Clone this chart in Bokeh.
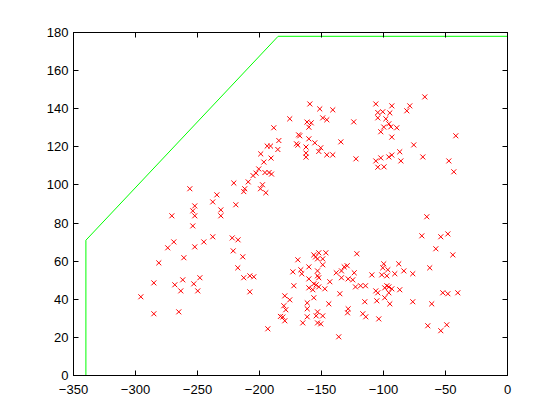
from bokeh.plotting import figure
from bokeh.models import Range1d, LinearAxis, FixedTicker
from bokeh.embed import file_html
from bokeh.resources import INLINE

# Boundary polygon (green)
bound_x = [-340, -340, -185, 0, 0, -340]
bound_y = [0, 71, 178, 178, 0, 0]

# Scatter points (red x markers)
x_vals = [
    -175.6, -188.5, -168.5, -167.5, -184.4, -193.8, -191.1, -170.2, -169.1, -185.2,
    -199.0, -190.7, -196.5, -200.6, -195.6, -192.3, -190.3, -205.2, -202.8, -220.7,
    -209.1, -211.9, -212.7, -197.6, -199.2, -194.9, -256.2, -234.4, -237.7, -219.1,
    -252.2, -253.8, -231.2, -252.2, -231.2, -270.7, -253.8, -237.7, -222.0, -217.3,
    -244.9, -269.1, -274.0, -252.2, -221.2, -213.5, -261.0, -281.2, -217.5, -212.7,
    -207.8, -204.6, -248.1, -285.2, -261.9, -268.3, -253.0, -263.5, -249.8, -207.8,
    -295.7, -285.2, -265.1, -193.3, -169.1, -173.1, -166.7, -165.9, -172.3, -179.6,
    -175.6, -180.4, -178.8, -183.1, -181.2, -179.6, -165.1,
    -159.4, -151.4, -140.9, -149.0, -145.7, -161.7, -158.3, -160.2, -124.0, -160.2,
    -155.4, -134.4, -162.5, -150.6, -152.2, -162.5, -162.5, -145.7, -140.9, -122.2,
    -106.2, -93.3, -66.7, -78.8, -81.2, -104.6, -100.6, -94.9, -104.6, -98.1,
    -95.7, -99.8, -94.1, -89.3, -102.2, -93.3, -41.7, -75.6, -93.3, -95.7,
    -86.9, -68.3, -106.2, -102.2, -86.0, -104.6, -99.6, -47.3, -43.3,
    -65.1, -69.1, -53.8, -48.1, -57.8, -44.1, -121.5, -156.2, -152.2, -146.5,
    -153.2, -149.0, -154.8, -160.2, -149.0, -153.2, -153.2, -152.2, -160.2, -156.2,
    -154.3, -160.2, -157.0, -152.2, -147.3, -143.3, -156.2, -161.5, -144.1, -161.5,
    -153.2, -154.3, -149.0, -161.5, -153.2, -150.6, -136.1, -135.2, -138.1, -133.9,
    -131.7, -129.3, -123.6, -133.9, -128.5, -124.8, -122.6, -118.5, -114.5, -128.5,
    -129.0, -115.1, -116.7, -114.3, -103.8, -109.4, -99.8, -100.6, -96.5, -101.4,
    -97.3, -87.7, -83.6, -90.9, -76.4, -62.7, -106.2, -104.6, -97.3, -95.7,
    -99.0, -93.3, -95.7, -86.9, -105.4, -99.0, -94.9, -76.4, -61.1, -52.2,
    -48.1, -40.1, -64.3, -53.8, -49.0,
]
y_vals = [
    134.7, 130.0, 126.3, 125.8, 123.3, 120.4, 120.4, 121.6, 120.9, 118.6,
    116.3, 114.1, 112.0, 108.4, 106.5, 106.5, 105.7, 104.9, 106.2, 101.0,
    101.6, 98.0, 96.5, 100.1, 98.0, 95.9, 98.0, 94.8, 91.1, 89.6,
    89.0, 86.4, 86.9, 83.8, 83.8, 83.8, 78.5, 72.8, 72.2, 71.2,
    70.1, 70.1, 67.0, 67.5, 65.4, 62.3, 61.8, 59.1, 56.5, 51.3,
    52.3, 51.8, 51.3, 48.6, 50.2, 47.6, 48.1, 44.4, 44.4, 43.9,
    41.3, 32.4, 33.4, 24.5, 60.7, 54.4, 55.5, 53.4, 47.1, 41.8,
    39.7, 36.6, 34.5, 31.0, 30.7, 28.7, 27.6,
    142.5, 139.9, 139.4, 135.2, 134.2, 133.0, 132.6, 130.3, 133.1, 124.2,
    122.1, 122.6, 119.9, 119.5, 117.6, 116.7, 114.6, 115.8, 115.8, 113.7,
    142.5, 141.5, 146.2, 141.5, 138.9, 138.0, 138.4, 137.8, 135.2, 134.7,
    132.1, 130.4, 130.5, 130.0, 127.9, 125.1, 125.8, 121.0, 115.7, 114.7,
    117.4, 114.7, 112.6, 114.2, 112.6, 109.3, 109.5, 112.6, 106.9,
    83.3, 73.3, 72.8, 74.3, 66.5, 63.3, 63.9, 63.3, 64.4, 64.4,
    61.2, 61.2, 62.2, 57.0, 58.1, 54.9, 52.3, 51.3, 50.7, 48.1,
    47.6, 46.0, 45.0, 46.5, 45.5, 49.2, 40.8, 38.1, 37.6, 35.0,
    33.4, 31.3, 31.3, 30.8, 27.6, 27.1, 20.3, 42.9, 53.9, 54.9,
    57.0, 57.6, 53.9, 51.3, 50.7, 50.2, 46.5, 47.1, 47.1, 35.0,
    32.9, 38.7, 32.4, 30.8, 29.7, 52.8, 58.6, 56.5, 55.5, 52.8,
    52.3, 58.6, 54.9, 53.4, 53.4, 56.5, 44.4, 43.4, 47.1, 46.5,
    46.0, 45.5, 43.4, 45.0, 39.2, 40.8, 37.6, 38.7, 37.6, 43.4,
    42.9, 43.4, 26.1, 23.5, 26.6,
]

x_ticks = [-350, -300, -250, -200, -150, -100, -50, 0]
y_ticks = [0, 20, 40, 60, 80, 100, 120, 140, 160, 180]

p = figure(
    frame_width=434, frame_height=343,
    x_range=Range1d(-350, 0), y_range=Range1d(0, 180),
    output_backend="svg", toolbar_location=None,
    min_border_left=73, min_border_top=32, min_border_right=45, min_border_bottom=37,
    background_fill_color="white", border_fill_color="white",
)
p.grid.visible = False
p.outline_line_color = "black"
p.outline_line_width = 1

font = "Liberation Sans"

def style_axis(ax, ticks, labels=True):
    ax.ticker = FixedTicker(ticks=ticks)
    ax.axis_line_color = "black"
    ax.major_tick_in = 5
    ax.major_tick_out = 0
    ax.minor_tick_line_color = None
    ax.major_tick_line_color = "black"
    ax.major_label_text_font = font
    if labels:
        ax.major_label_text_font_size = "13px"
        ax.major_label_text_color = "black"
    else:
        ax.major_label_text_color = None
        ax.major_label_standoff = 0

style_axis(p.xaxis[0], x_ticks)
style_axis(p.yaxis[0], y_ticks)
p.xaxis[0].major_label_standoff = 9
p.yaxis[0].major_label_standoff = 5

top = LinearAxis()
style_axis(top, x_ticks, labels=False)
p.add_layout(top, "above")
right = LinearAxis()
style_axis(right, y_ticks, labels=False)
p.add_layout(right, "right")

p.scatter(x_vals, y_vals, marker="x", size=7, line_color="#ff0000", line_width=1)
p.line(bound_x, bound_y, line_color="#00ff00", line_width=1)

open("out.html", "w").write(file_html(p, INLINE))
